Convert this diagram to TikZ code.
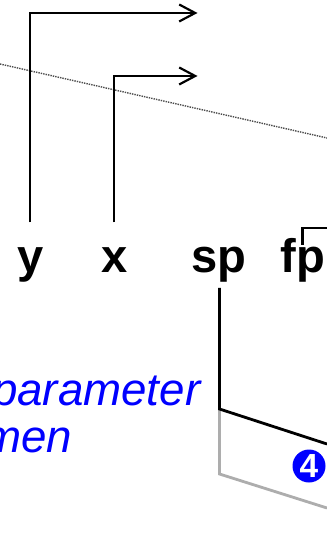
\documentclass[tikz,border=0pt]{standalone}
\usepackage{fontspec}
\setmainfont{Liberation Sans}
\usepackage{xcolor}
\usetikzlibrary{arrows.meta,positioning,calc}

\begin{document}
\begin{tikzpicture}[
  reg/.style={font=\fontsize{13.4}{15}\selectfont\bfseries,inner sep=0pt,text height=4.95mm,text depth=1.5mm,anchor=base},
  note/.style={font=\fontsize{13}{15}\selectfont\itshape,text=blue,inner sep=0pt,anchor=base east},
  mark4/.style={circle,fill=blue,text=white,font=\fontsize{9.5}{10}\selectfont\bfseries,minimum size=3.3mm,inner sep=0pt},
  wire/.style={line width=.62pt},
  arr/.style={wire,-{Straight Barb[length=1.6mm,width=1.7mm]}},
  frame/.style={line width=.8pt},
  frameback/.style={line width=.8pt,black!32}
]
\useasboundingbox (0,0) rectangle (3.27,-5.41);
\node[reg] (y) at (0.302,-2.725) {y};
\node[reg] (x) at (1.142,-2.725) {x};
\node[reg] (sp) at (2.19,-2.725) {sp};
\node[reg] (fp) at (3.03,-2.725) {fp};
\coordinate (yout) at (1.975,-0.13);
\coordinate (xout) at (1.975,-0.76);
\coordinate (fpin) at (3.025,-2.45);
\coordinate (fpout) at (3.27,-2.28);
\coordinate (top) at (2.195,-4.09);
\coordinate (topr) at (3.27,-4.44);
\coordinate (bot) at (2.195,-4.74);
\coordinate (botr) at (3.27,-5.08);
\coordinate (divl) at (0,-0.64);
\coordinate (divr) at (3.27,-1.38);
\draw[line width=.4pt,black!70,dash pattern=on .4pt off .3pt] (divl)--(divr);
\draw[arr] (y.north) |- (yout);
\draw[arr] (x.north) |- (xout);
\draw[wire] (fpin) |- (fpout);
\draw[frameback] (top)--(bot)--(botr);
\draw[frame] (2.195,-2.88)--(top)--(topr);
\node[mark4] (m4) at (3.09,-4.66) {4};
\node[note] (l1) at (2.01,-4.05) {parameter};
\node[note] (l2) at (0.73,-4.52) {men};
\end{tikzpicture}
\end{document}
